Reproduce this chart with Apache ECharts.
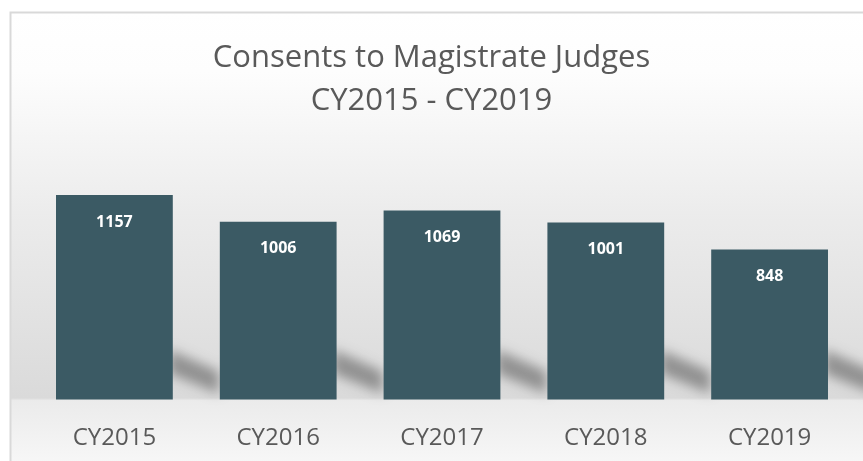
<!DOCTYPE html>
<html>
<head>
<meta charset="utf-8">
<script src="https://cdn.jsdelivr.net/npm/echarts@6/dist/echarts.min.js"></script>
<style>
  html, body { margin: 0; padding: 0; background: #fff; }
  #main { width: 863px; height: 461px; }
</style>
</head>
<body>
<div id="main"></div>
<script>
// data
const categories = ['CY2015', 'CY2016', 'CY2017', 'CY2018', 'CY2019']
const consents = [1157, 1006, 1069, 1001, 848]
const titleLines = ['Consents to Magistrate Judges', 'CY2015 - CY2019']

const barColor = '#3b5a64'
const textColor = '#595959'
const barRatio = 0.713
const far = 2000 // 把形状移出画布，只留下它的模糊阴影

const chartBox = echarts.init(document.getElementById('main'))

// 柱子右下方的斜影
const renderShadow = function (params, api) {
  const base = api.coord([api.value(0), 0])
  const w = api.size([1, 0])[0] * barRatio
  const r = base[0] + w / 2 - far
  const y0 = base[1]
  return {
    type: 'polygon',
    shape: {
      points: [
        [r - 4, y0 - 50],
        [r + 46, y0 - 28],
        [r + 46, y0 - 6],
        [r - 4, y0 - 26]
      ]
    },
    style: {
      fill: '#000',
      shadowBlur: 12,
      shadowOffsetX: far,
      shadowColor: 'rgba(0,0,0,0.34)'
    }
  }
}

const option = {
  animation: false,
  graphic: [
    {
      type: 'rect',
      z: -10,
      silent: true,
      shape: { x: 10.5, y: 12.5, width: 900, height: 500 },
      style: {
        stroke: '#d9d9d9',
        lineWidth: 2,
        fill: {
          type: 'linear',
          x: 0, y: 0, x2: 0, y2: 1,
          global: false,
          colorStops: [
            { offset: 0, color: '#ffffff' },
            { offset: 0.12, color: '#fdfdfd' },
            { offset: 0.4, color: '#ececec' },
            { offset: 0.77, color: '#dadada' },
            { offset: 0.775, color: '#ebebeb' },
            { offset: 0.9, color: '#f7f7f7' },
            { offset: 1, color: '#fcfcfc' }
          ]
        }
      }
    }
  ],
  title: {
    text: titleLines.join('\n'),
    left: 'center',
    top: 32,
    textStyle: {
      fontFamily: 'Open Sans',
      fontSize: 31,
      fontWeight: 'normal',
      color: textColor,
      lineHeight: 43
    }
  },
  grid: {
    left: 32.5,
    right: 11.5,
    top: 152,
    bottom: 61.5,
    containLabel: false
  },
  xAxis: {
    type: 'category',
    data: categories,
    axisLine: { show: false },
    axisTick: { show: false },
    axisLabel: {
      margin: 27,
      fontFamily: 'Open Sans',
      fontSize: 24,
      color: textColor
    }
  },
  yAxis: {
    type: 'value',
    min: 0,
    max: 1400,
    show: false,
    splitLine: { show: false }
  },
  series: [
    {
      type: 'custom',
      renderItem: renderShadow,
      data: consents.map((v, i) => [i, v]),
      z: 1,
      silent: true,
      clip: false
    },
    {
      type: 'bar',
      data: consents,
      barWidth: (barRatio * 100) + '%',
      z: 2,
      itemStyle: { color: barColor },
      label: {
        show: true,
        position: 'insideTop',
        distance: 19,
        fontFamily: 'Open Sans',
        fontSize: 16,
        fontWeight: 'bold',
        color: '#ffffff'
      }
    }
  ]
}
chartBox.setOption(option)
</script>
</body>
</html>
